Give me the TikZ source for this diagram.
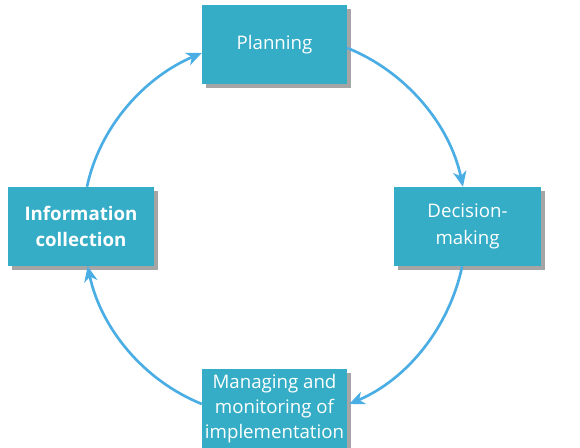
\documentclass[tikz,border=0pt]{standalone}
\usepackage{fontspec}
\setmainfont{Open Sans}
\usetikzlibrary{arrows.meta,shadows}
\definecolor{boxc}{HTML}{35ADC6}
\definecolor{arrc}{HTML}{4AADE4}
\definecolor{shc}{HTML}{A5A5A5}
\begin{document}
\begin{tikzpicture}[x=0.75pt,y=0.75pt,
  stage/.style={fill=boxc, text=white, inner sep=0pt, align=center,
    font=\fontsize{14pt}{20pt}\selectfont,
    drop shadow={shadow xshift=3pt, shadow yshift=-3pt, fill=shc, opacity=1}},
  flow/.style={draw=arrc, line width=2pt,
    -{Stealth[length=11.5pt,width=10pt,inset=3.5pt]}, looseness=0.9}]
\useasboundingbox (0,0) rectangle (580,448);
\node[stage, minimum width=108.75pt, minimum height=59.25pt] (plan) at (274.5,403.5) {Planning};
\node[stage, minimum width=110.25pt, minimum height=59.25pt] (dec) at (467.5,221.5) {Decision-\\making};
\node[stage, minimum width=109.5pt, minimum height=59.25pt, font=\fontsize{14pt}{20pt}\selectfont\bfseries] (info) at (81,221.5) {Information\\collection};
\node[stage, minimum width=108.75pt, minimum height=59.25pt, font=\fontsize{14pt}{19pt}\selectfont] (man) at (274.5,39.5) {Managing and\\monitoring of\\implementation};
\draw[flow] ([xshift=4.5pt]info.north) to[out=78,in=203] ([yshift=-6.4pt]plan.west);
\draw[flow] ([yshift=-2.6pt]plan.east) to[out=-22,in=102] ([xshift=-3.4pt]dec.north);
\draw[flow] ([xshift=-4pt]dec.south) to[out=-102,in=23] ([xshift=1.5pt,yshift=3.4pt]man.east);
\draw[flow] ([yshift=3.4pt]man.west) to[out=158,in=-78] ([xshift=5pt]info.south);
\end{tikzpicture}
\end{document}
